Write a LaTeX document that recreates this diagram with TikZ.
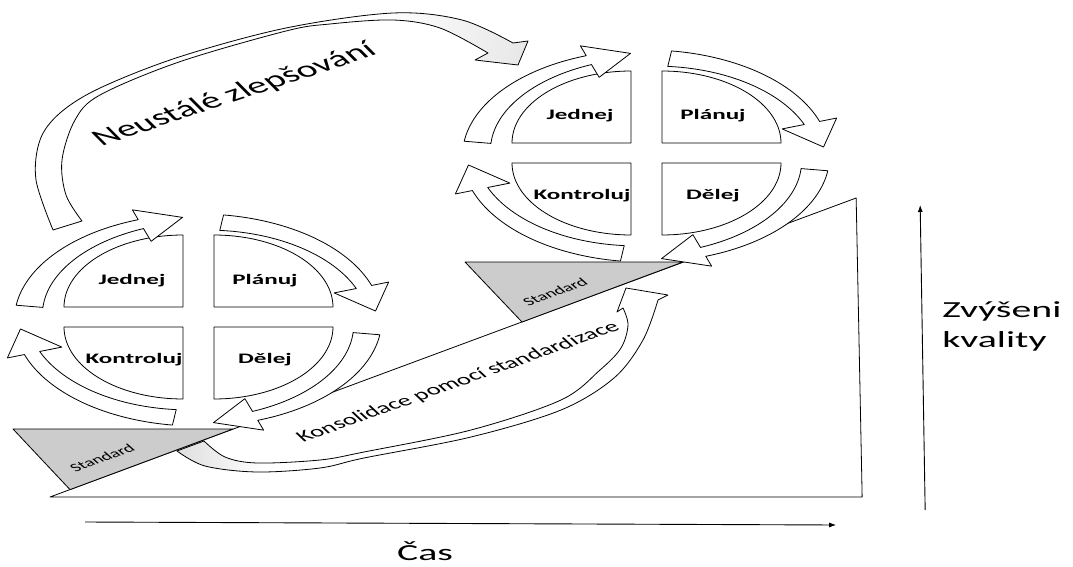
\documentclass[tikz,border=0pt]{standalone}
\usepackage{fontspec}
\setmainfont{Carlito}
\usetikzlibrary{arrows.meta}

% fades for the two ribbon arrows
\pgfdeclarehorizontalshading{fadetogray}{100bp}{color(0bp)=(white); color(60bp)=(white); color(100bp)=(gray!50)}
\pgfdeclarehorizontalshading{fadefromgray}{100bp}{color(0bp)=(gray!55); color(18bp)=(gray!45); color(34bp)=(white); color(100bp)=(white)}

\tikzset{
  outline/.style={draw=black, line width=0.8pt, line join=round},
  quadbox/.style={outline, fill=white},
  ringarrow/.style={outline, fill=white},
  stdwedge/.style={outline, fill=gray!40},
  axisline/.style={draw=black, line width=0.9pt, -{Latex[length=7pt,width=5pt]}},
  every node/.style={inner sep=0pt},
  wide/.style={xscale=1.73},
  steplabel/.style={wide, font=\fontsize{14.5}{17}\selectfont\bfseries, anchor=base},
  stdlabel/.style={font=\fontsize{11.5}{13}\selectfont, cm={1.451,0.5446,-0.9422,0.8387,(0,0)}},
  axislabel/.style={wide, font=\fontsize{23}{28}\selectfont, anchor=base west},
}

% quarter of a cycle: inner corner (#1,#2), outward direction (#3,#4)
\newcommand\pdcaquad[4]{%
  \draw[quadbox] (#1,#2) -- plot[domain=0:90, samples=36, variable=\t]
    ({#1+(#3)*119*cos(\t)}, {#2+(#4)*72*sin(\t)}) -- cycle;}

% curved block arrow on the ring around centre (#1,#2):
% tail angle #3, head base angle #4, tip angle #5
\newcommand\cycarrow[5]{%
  \draw[ringarrow]
    plot[domain=#3:#4, samples=40, variable=\t] ({#1+183.6*cos(\t)}, {#2-106.1*sin(\t)})
    -- ({#1+201.6*cos(#4)}, {#2-116.5*sin(#4)})
    -- ({#1+178.2*cos(#5)}, {#2-103*sin(#5)})
    -- ({#1+144*cos(#4)}, {#2-83.2*sin(#4)})
    -- plot[domain=#4:#3, samples=40, variable=\t]
       ({#1+180*(0.93-0.06*(\t-(#4))/((#3)-(#4)))*cos(\t)},
        {#2-104*(0.93-0.06*(\t-(#4))/((#3)-(#4)))*sin(\t)})
    -- cycle;}

% full PDCA cycle, node names prefixed by #1, ring centre (#2,#3)
\newcommand\pdcacycle[3]{%
  \pgfmathsetmacro\qxl{#2-15}\pgfmathsetmacro\qxr{#2+16}%
  \pgfmathsetmacro\qyt{#3-13}\pgfmathsetmacro\qyb{#3+7}%
  \pdcaquad{\qxl}{\qyt}{-1}{-1}
  \pdcaquad{\qxr}{\qyt}{1}{-1}
  \pdcaquad{\qxl}{\qyb}{-1}{1}
  \pdcaquad{\qxr}{\qyb}{1}{1}
  \cycarrow{#2}{#3}{172}{109}{95}
  \cycarrow{#2}{#3}{82}{19}{5}
  \cycarrow{#2}{#3}{-8}{-71}{-85}
  \cycarrow{#2}{#3}{262}{199}{185}
  \node[steplabel] (#1-jednej) at (#2-66,#3-36) {Jednej};
  \node[steplabel] (#1-planuj) at (#2+67,#3-36) {Plánuj};
  \node[steplabel] (#1-kontroluj) at (#2-64,#3+43) {Kontroluj};
  \node[steplabel] (#1-delej) at (#2+67,#3+43) {Dělej};
}

\begin{document}
\begin{tikzpicture}[x=0.578035pt, y=-1pt, xscale=1.73]
  \useasboundingbox (0,0) rectangle (1073,567);
  \fill[white] (0,0) rectangle (1073,567);

  % quality ramp
  \coordinate (rampfoot) at (50,497);
  \coordinate (rampend) at (862,497);
  \coordinate (ramptop) at (856,198);
  \draw[outline] (rampfoot) -- (rampend) -- (ramptop) -- cycle;

  % standard wedges resting on the ramp
  \draw[stdwedge] (13,429) -- (233,429) -- (70,489.6) -- cycle;
  \draw[stdwedge] (465,262) -- (683,262) -- (522,322) -- cycle;
  \node[stdlabel] (std1) at (102,458) {Standard};
  \node[stdlabel] (std2) at (555,292) {Standard};

  % consolidation ribbon arrow
  \path[outline, shade, shading=fadefromgray]
    plot[smooth, tension=0.55] coordinates {(177,451) (205,466) (257,472) (320,468)
      (364,458) (471,437) (561,410) (614,378) (643,340) (658,300)}
    -- (668,295) -- (626,288) -- (617,312) --
    plot[smooth, tension=0.55] coordinates {(623,308) (628,325) (621,348) (600,370)
      (561,400) (471,430) (364,452) (320,460) (257,463) (225,457) (204,441)}
    -- cycle;
  \node[font=\fontsize{15.5}{18}\selectfont, anchor=base,
        cm={1.4735,0.524,-0.9065,0.8517,(0,0)}] (kons) at (462,386)
        {Konsolidace pomocí standardizace};

  % improvement ribbon arrow
  \path[outline, shade, shading=fadetogray]
    plot[smooth, tension=0.55] coordinates {(53,230) (36,180) (40,140) (60,113)
      (100,88) (179,57) (286,28) (393,13) (462,20) (513,43)}
    -- (528,41) -- (518,65) -- (475,60) --
    plot[smooth, tension=0.55] coordinates {(488,53) (440,28) (393,20) (330,24)
      (286,31) (179,62) (100,95) (75,120) (62,160) (66,195) (82,221)}
    -- cycle;
  \node[font=\fontsize{23}{27}\selectfont, anchor=base,
        cm={1.4982,0.5,-0.865,0.866,(0,0)}] (neust) at (240,100)
        {Neustálé zlepšování};

  % the two PDCA cycles
  \pdcacycle{L}{198}{320}
  \pdcacycle{R}{646}{156}

  % axes
  \coordinate (tstart) at (85,522);
  \coordinate (tend) at (836,525);
  \draw[axisline] (tstart) -- (tend);
  \node[axislabel, anchor=base] (cas) at (425,560) {Čas};
  \coordinate (qstart) at (925,510);
  \coordinate (qend) at (920,205);
  \draw[axisline] (qstart) -- (qend);
  \node[axislabel] (zvy) at (942,317) {Zvýšeni};
  \node[axislabel] (kval) at (942,347) {kvality};
\end{tikzpicture}
\end{document}
